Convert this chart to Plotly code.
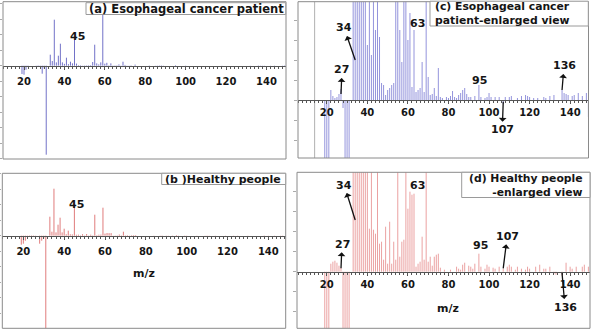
import plotly.graph_objects as go

# ---------------- data ----------------
CANCER_MZ = [19, 20, 21, 22, 23, 24, 25, 26, 27, 28,
             29, 30, 31, 33, 34, 35, 36, 37, 38, 39,
             40, 41, 42, 43, 44, 45, 46, 47, 48, 49,
             50, 51, 52, 53, 54, 55, 56, 57, 58, 59,
             60, 61, 62, 63, 64, 65, 66, 67, 68, 69,
             70, 71, 72, 73, 74, 75, 76, 77, 79, 80,
             81, 82, 83, 84, 85, 86, 87, 88, 89, 90,
             91, 93, 95, 96, 98, 99, 100, 101, 103, 105,
             107, 108, 110, 111, 114, 116, 118, 119, 120, 122,
             124, 127, 128, 130, 132, 136, 137, 138, 139, 141,
             142, 144, 146, 148, 149]
CANCER_INT = [-250, -270, -120, 10, 4, 2, 3, 6, 11, -8,
              -240, -90, -2670, 330, 140, 1380, 100, 300, 660, 100,
              55, 240, 45, 120, 70, 780, 63, 17, 15, 5,
              10, 12, 15, 17, 110, 630, 70, 38, 100, 1750,
              60, 87, 13, 70, 8, 10, 12, 38, 8, 120,
              23, 5, 6, 12, 4, 32, 3, 2, 3, 2,
              4, 9, 3, 2, 5, 7, 10, 12, 6, 3,
              3, 4, 15, 3, 2, 3, 7, 3, 3, 3,
              -4, 3, 3, 4, 2, 4, 5, 4, 3, 2,
              2, 3, 2, 4, 5, 10, 7, 6, 5, 4,
              5, 7, 4, 7, -17]

HEALTHY_MZ = [19, 20, 21, 22, 23, 24, 25, 26, 27, 28,
              29, 30, 31, 33, 34, 35, 36, 37, 38, 39,
              40, 41, 42, 43, 44, 45, 46, 47, 48, 49,
              50, 51, 52, 53, 54, 55, 56, 57, 58, 59,
              60, 61, 62, 63, 64, 65, 66, 67, 68, 69,
              70, 71, 72, 73, 74, 75, 76, 78, 81, 84,
              85, 86, 87, 88, 90, 91, 92, 93, 95, 96,
              98, 99, 100, 102, 103, 105, 107, 109, 110, 111,
              113, 114, 116, 118, 119, 120, 123, 125, 127, 128,
              130, 132, 133, 136, 138, 140, 141, 143, 146, 147,
              149]
HEALTHY_INT = [-270, -240, -150, 8, 10, 11, 9, 6, 4, -240,
               -150, -80, -2790, 570, 120, 1410, 100, 330, 540, 100,
               210, 43, 150, 42, 38, 870, 28, 30, 12, 45,
               8, 50, 8, 30, 12, 630, 15, 30, 32, 840,
               63, 80, 77, 78, 5, 8, 10, 35, 12, 120,
               10, 15, 6, 15, 17, 18, 4, 2, 2, 5,
               3, 2, 7, 9, 6, 5, 3, 8, 18, 5,
               3, 7, 5, 4, 3, 5, 3, 5, 7, 5,
               2, 5, 3, 2, 5, 3, 5, 7, 3, 3,
               5, -2, -3, -4, 9, 5, 3, 5, 5, 7,
               5]

TICK_VALS = [20, 40, 60, 80, 100, 120, 140]
TICK_TEXT = ["20", "40", "60", "80", "100", "120", "140"]
X_TITLE = "m/z"

# ---------------- styling ----------------
FONT = "DejaVu Sans"
BLUE_FULL = "#7272c8"
BLUE_ZOOM = "#9494dc"
RED_FULL = "#e07c7c"
RED_ZOOM = "#eba2a2"
FRAME = "#8a8a8a"
AXIS = "#555555"
TXT = "#151515"

W, H = 595, 333


def xdom(l, r):
    return [l / W, r / W]


def ydom(top, bottom):
    return [1 - bottom / H, 1 - top / H]


def stems(mz, vals):
    xs, ys = [], []
    for m, v in zip(mz, vals):
        xs += [m, m, None]
        ys += [0, v, None]
    return xs, ys


panels = [
    dict(ax="", mz=CANCER_MZ, v=CANCER_INT, color=BLUE_FULL,
         xd=xdom(3, 286), xr=[9.6, 149.7], yd=ydom(1.7, 159), yr=[-2799, 1920],
         zero=65.7, dt=465, stand=3),
    dict(ax="2", mz=CANCER_MZ, v=CANCER_INT, color=BLUE_ZOOM,
         xd=xdom(298, 588.5), xr=[5.8, 149.04], yd=ydom(1.7, 158), yr=[-58, 98.3],
         zero=100, dt=20, stand=0),
    dict(ax="3", mz=HEALTHY_MZ, v=HEALTHY_INT, color=RED_FULL,
         xd=xdom(2.3, 285.7), xr=[9.7, 148.5], yd=ydom(173.3, 328.3), yr=[-2778, 1872],
         zero=235.7, dt=465, stand=3),
    dict(ax="4", mz=HEALTHY_MZ, v=HEALTHY_INT, color=RED_ZOOM,
         xd=xdom(297, 590), xr=[5.3, 149.8], yd=ydom(172.3, 328.3), yr=[-56.6, 99.4],
         zero=271.7, dt=20, stand=0),
]

fig = go.Figure()
layout = dict(
    width=W, height=H, margin=dict(l=0, r=0, t=0, b=0),
    paper_bgcolor="white", plot_bgcolor="white", showlegend=False,
)
shapes = []
annotations = []

for p in panels:
    a = p["ax"]
    xs, ys = stems(p["mz"], p["v"])
    fig.add_trace(go.Scatter(
        x=xs, y=ys, mode="lines", line=dict(color=p["color"], width=1),
        xaxis="x" + a, yaxis="y" + a, hoverinfo="skip", connectgaps=False,
    ))
    layout["xaxis" + a] = dict(
        domain=p["xd"], range=p["xr"], anchor="free", position=1 - p["zero"] / H,
        showline=True, linecolor=AXIS, linewidth=1, mirror=False,
        showgrid=False, zeroline=False,
        tickmode="array", tickvals=TICK_VALS, ticktext=TICK_TEXT,
        ticks="outside", ticklen=3, tickcolor=AXIS, ticklabelstandoff=p["stand"],
        tickfont=dict(family=FONT, size=10, color=TXT, weight="bold"),
        minor=dict(tickmode="linear", tick0=0, dtick=2, ticks="outside", ticklen=2, tickcolor=AXIS),
        fixedrange=True,
    )
    layout["yaxis" + a] = dict(
        domain=p["yd"], range=p["yr"], anchor="x" + a,
        showticklabels=False, showgrid=False, zeroline=False, showline=False,
        ticks="outside", ticklen=3, tickcolor="#aaaaaa", tick0=0, dtick=p["dt"],
        fixedrange=True,
    )
    shapes.append(dict(type="rect", xref=f"x{a} domain", yref=f"y{a} domain",
                       x0=0, x1=1, y0=0, y1=1, line=dict(color=FRAME, width=1),
                       layer="above"))

# faint reference line in the enlarged cancer view
shapes.append(dict(type="line", xref="x2", yref="y2 domain", x0=14, x1=14, y0=0, y1=1,
                   line=dict(color="#b0b0b0", width=1), layer="below"))


def box(x0, x1, top, bottom):
    shapes.append(dict(type="rect", xref="paper", yref="paper",
                       x0=x0 / W, x1=x1 / W, y0=1 - bottom / H, y1=1 - top / H,
                       fillcolor="white", line=dict(color="#9a9a9a", width=1),
                       layer="above"))


def label(text, x, y, xanchor="center", size=11.5, align="center"):
    annotations.append(dict(text=text, xref="paper", yref="paper", x=x / W, y=1 - y / H,
                            xanchor=xanchor, yanchor="middle", showarrow=False, align=align,
                            font=dict(family=FONT, size=size, color=TXT, weight="bold")))


box(86, 285.7, 2.7, 14.5)
label("(a) Esophageal cancer patient", 186, 8.7)
box(430, 588.3, 1.2, 26)
label("(c) Esophageal cancer<br>patient-enlarged view", 432.5, 13.6, "left", 10.8, "left")
box(161.7, 285.7, 173.3, 184.5)
label("(b )Healthy people", 223, 179, size=11)
box(461.7, 590, 172.3, 197.5)
label("(d) Healthy people<br>-enlarged view", 585, 185, "right", 10.8, "right")

PEAK_FONT = dict(family=FONT, size=11, color=TXT, weight="bold")


def peak(a, text, x, y, xshift=0):
    annotations.append(dict(text=text, xref="x" + a, yref="y" + a, x=x, y=y,
                            xshift=xshift, showarrow=False, font=PEAK_FONT))


def arrow(a, text, x, y, ax, ay):
    annotations.append(dict(text=text, xref="x" + a, yref="y" + a, x=x, y=y,
                            ax=ax, ay=ay, showarrow=True, arrowside="start",
                            arrowhead=2, arrowsize=0.9, arrowwidth=1.3,
                            arrowcolor="#111111", font=PEAK_FONT))


# (a), (b)
peak("", "45", 45, 882, 3)
peak("3", "45", 45, 951, 2)
# (c)
arrow("2", "34", 34, 40, -11, -32)
arrow("2", "27", 27, 6, 1, -24)
arrow("2", "107", 107, -1.7, -1, 28)
arrow("2", "136", 136, 10, 2, -24)
peak("2", "63", 63, 76.7, 3)
peak("2", "95", 95, 19.7, 1)
# (d)
arrow("4", "34", 34, 51.7, -11, -35)
arrow("4", "27", 27, 3.4, 1, -24)
arrow("4", "107", 107, 3.4, 4, -32)
arrow("4", "136", 136, -1.3, 3, 34)
peak("4", "63", 63, 86.7, 3)
peak("4", "95", 95, 25.9, 2)
# axis titles
for a, xv, yv in [("3", 79.1, -1128), ("4", 79.8, -36.6)]:
    annotations.append(dict(text=X_TITLE, xref="x" + a, yref="y" + a, x=xv, y=yv,
                            showarrow=False, font=PEAK_FONT))

layout["shapes"] = shapes
layout["annotations"] = annotations
fig.update_layout(**layout)
fig.write_html("out.html")
